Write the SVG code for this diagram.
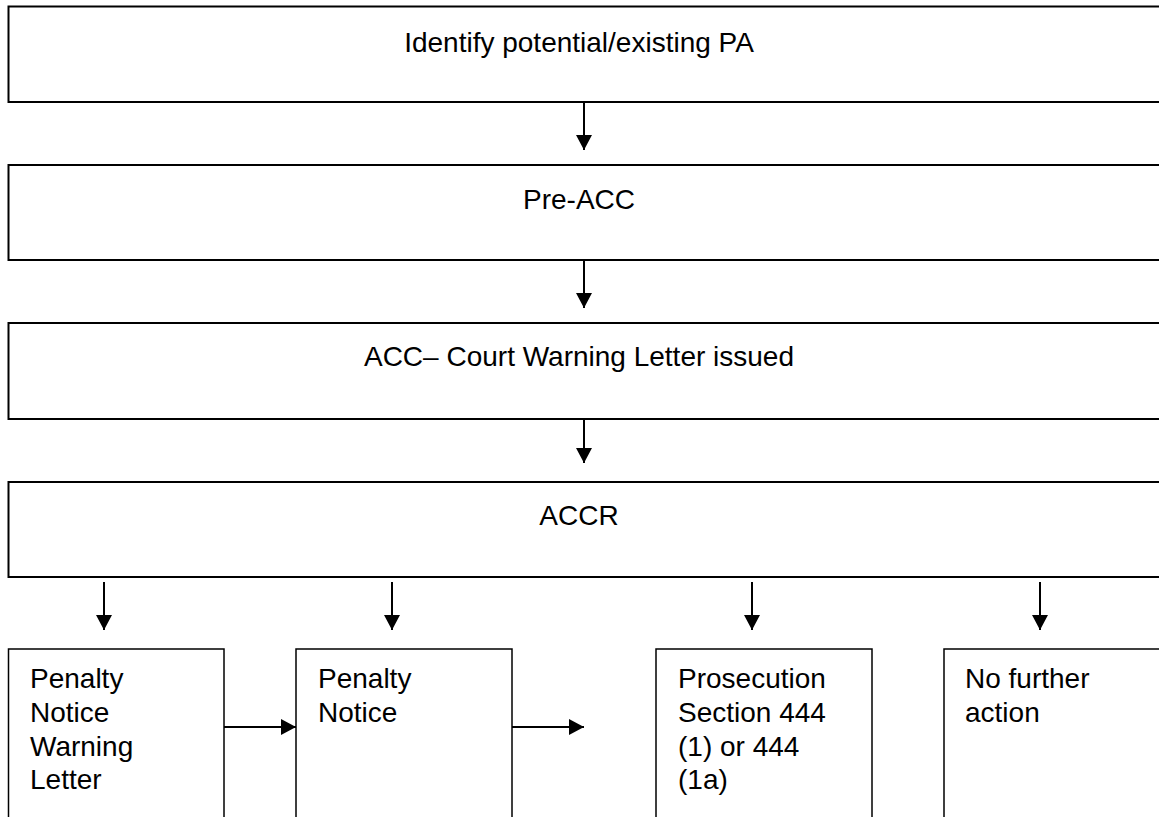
<svg xmlns="http://www.w3.org/2000/svg" width="1159" height="817" viewBox="0 0 1159 817">
  <style>
    .big { fill: #fff; stroke: #000; stroke-width: 2; }
    .small { fill: #fff; stroke: #000; stroke-width: 1.5; }
    .t { font-family: "Liberation Sans", Arial, sans-serif; font-size: 28px; fill: #000; }
    .c { text-anchor: middle; }
    .conn { stroke: #000; stroke-width: 2; fill: none; marker-end: url(#ah); }
  </style>
  <defs>
    <marker id="ah" markerUnits="userSpaceOnUse" markerWidth="15" markerHeight="16" refX="15" refY="8" orient="auto">
      <path d="M0,0 L15,8 L0,16 z" fill="#000"/>
    </marker>
  </defs>
  <rect width="1159" height="817" fill="#fff"/>

  <g id="n1">
    <rect class="big" x="8.5" y="6.5" width="1160" height="95.5"/>
    <text class="t c" x="579" y="52">Identify potential/existing PA</text>
  </g>
  <g id="n2">
    <rect class="big" x="8.5" y="165" width="1160" height="95"/>
    <text class="t c" x="579" y="209">Pre-ACC</text>
  </g>
  <g id="n3">
    <rect class="big" x="8.5" y="323" width="1160" height="96"/>
    <text class="t c" x="579" y="366">ACC– Court Warning Letter issued</text>
  </g>
  <g id="n4">
    <rect class="big" x="8.5" y="482" width="1160" height="95"/>
    <text class="t c" x="579" y="525">ACCR</text>
  </g>
  <g id="n5">
    <rect class="small" x="8.5" y="649" width="215.5" height="190"/>
    <text class="t" x="30" y="688">Penalty</text>
    <text class="t" x="30" y="722">Notice</text>
    <text class="t" x="30" y="756">Warning</text>
    <text class="t" x="30" y="789">Letter</text>
  </g>
  <g id="n6">
    <rect class="small" x="296" y="649" width="216" height="190"/>
    <text class="t" x="318" y="688">Penalty</text>
    <text class="t" x="318" y="722">Notice</text>
  </g>
  <g id="n7">
    <rect class="small" x="656" y="649" width="216" height="190"/>
    <text class="t" x="678" y="688">Prosecution</text>
    <text class="t" x="678" y="722">Section 444</text>
    <text class="t" x="678" y="756">(1) or 444</text>
    <text class="t" x="678" y="789">(1a)</text>
  </g>
  <g id="n8">
    <rect class="small" x="944" y="649" width="230" height="190"/>
    <text class="t" x="965" y="688">No further</text>
    <text class="t" x="965" y="722">action</text>
  </g>

  <g id="connectors">
    <line class="conn" x1="584" y1="102" x2="584" y2="150"/>
    <line class="conn" x1="584" y1="260" x2="584" y2="308"/>
    <line class="conn" x1="584" y1="419" x2="584" y2="463"/>
    <line class="conn" x1="104" y1="582" x2="104" y2="630"/>
    <line class="conn" x1="392" y1="582" x2="392" y2="630"/>
    <line class="conn" x1="752" y1="582" x2="752" y2="630"/>
    <line class="conn" x1="1040" y1="582" x2="1040" y2="630"/>
    <line class="conn" x1="224" y1="727" x2="296" y2="727"/>
    <line class="conn" x1="512" y1="727" x2="584" y2="727"/>
  </g>
</svg>
